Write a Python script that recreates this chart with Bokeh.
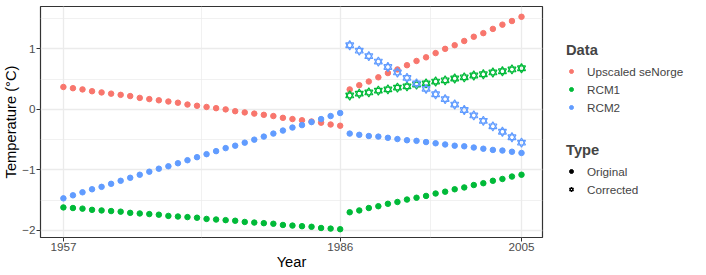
from bokeh.plotting import figure
from bokeh.models import (Range1d, FixedTicker, Legend, LegendItem, ColumnDataSource)
from bokeh.layouts import row
from bokeh.embed import file_html
from bokeh.resources import INLINE

years_early = list(range(1957, 1987))
years_late = list(range(1987, 2006))

senorge_early = [0.37, 0.35, 0.33, 0.30, 0.28, 0.26, 0.24, 0.22, 0.19, 0.17, 0.15, 0.13, 0.11, 0.08, 0.06,
                 0.04, 0.02, 0.00, -0.03, -0.05, -0.07, -0.09, -0.11, -0.14, -0.16, -0.18, -0.20, -0.22, -0.25, -0.27]
senorge_late = [0.33, 0.40, 0.46, 0.53, 0.60, 0.66, 0.73, 0.80, 0.86, 0.93, 1.00, 1.06, 1.13, 1.20, 1.26,
                1.33, 1.40, 1.46, 1.53]
rcm1_early = [-1.62, -1.63, -1.64, -1.66, -1.67, -1.68, -1.69, -1.71, -1.72, -1.73, -1.74, -1.76, -1.77, -1.78,
              -1.79, -1.81, -1.82, -1.83, -1.84, -1.86, -1.87, -1.88, -1.89, -1.91, -1.92, -1.93, -1.94, -1.96,
              -1.97, -1.98]
rcm1_late = [-1.70, -1.67, -1.63, -1.60, -1.56, -1.53, -1.49, -1.46, -1.43, -1.39, -1.36, -1.32, -1.29, -1.25,
             -1.22, -1.18, -1.15, -1.11, -1.08]
rcm2_early = [-1.47, -1.42, -1.37, -1.32, -1.28, -1.23, -1.18, -1.13, -1.08, -1.03, -0.98, -0.94, -0.89, -0.84,
              -0.79, -0.74, -0.69, -0.64, -0.60, -0.55, -0.50, -0.45, -0.40, -0.35, -0.30, -0.26, -0.21, -0.16,
              -0.11, -0.06]
rcm2_late = [-0.40, -0.42, -0.44, -0.45, -0.47, -0.49, -0.51, -0.52, -0.54, -0.56, -0.58, -0.60, -0.61, -0.63,
             -0.65, -0.67, -0.68, -0.70, -0.72]
rcm1_corrected = [0.23, 0.26, 0.28, 0.31, 0.33, 0.36, 0.38, 0.41, 0.43, 0.46, 0.48, 0.51, 0.53, 0.56, 0.58,
                  0.61, 0.63, 0.66, 0.68]
rcm2_corrected = [1.06, 0.97, 0.88, 0.79, 0.70, 0.61, 0.52, 0.43, 0.34, 0.25, 0.17, 0.08, -0.01, -0.10, -0.19,
                  -0.28, -0.37, -0.46, -0.55]

x_ticks = [1957, 1986, 2005]
y_ticks = [-2, -1, 0, 1]
data_labels = ["Upscaled seNorge", "RCM1", "RCM2"]
type_labels = ["Original", "Corrected"]
colors = ["#F8766D", "#00BA38", "#619CFF"]

FONT = "Liberation Sans"
H = 272

p = figure(width=552, height=H, output_backend="svg", toolbar_location=None,
           x_range=Range1d(1954.6, 2007.2), y_range=Range1d(-2.117, 1.70),
           min_border_left=35, min_border_right=10, min_border_top=6, min_border_bottom=30)
p.background_fill_color = "white"
p.outline_line_color = "#333333"
p.outline_line_width = 1.2

for ax in (p.xaxis[0], p.yaxis[0]):
    ax.axis_line_color = None
    ax.major_tick_line_color = "#333333"
    ax.major_tick_out = 4
    ax.major_tick_in = 0
    ax.minor_tick_line_color = None
    ax.major_label_text_font = FONT
    ax.major_label_text_font_size = "11.7px"
    ax.major_label_text_color = "#4D4D4D"
    ax.axis_label_text_font = FONT
    ax.axis_label_text_font_size = "14.7px"
    ax.axis_label_text_font_style = "normal"
    ax.axis_label_text_color = "black"
    ax.major_label_standoff = 1
    ax.axis_label_standoff = 0

p.xaxis.ticker = FixedTicker(ticks=x_ticks, minor_ticks=[1971.5, 1995.5])
p.yaxis.ticker = FixedTicker(ticks=y_ticks, minor_ticks=[-1.5, -0.5, 0.5, 1.5])
p.yaxis.major_label_overrides = {t: (str(t).replace("-", "\u2212")) for t in y_ticks}
p.xaxis.axis_label = "Year"
p.yaxis.axis_label = "Temperature (\u00b0C)"

for g in (p.xgrid[0], p.ygrid[0]):
    g.grid_line_color = "#EBEBEB"
    g.grid_line_width = 1.3
    g.minor_grid_line_color = "#EBEBEB"
    g.minor_grid_line_width = 0.7

early = [senorge_early, rcm1_early, rcm2_early]
late = [senorge_late, rcm1_late, rcm2_late]
for vals_e, vals_l, c in zip(early, late, colors):
    p.scatter(years_early, vals_e, size=5.5, marker="circle", fill_color=c, line_color=c)
    p.scatter(years_late, vals_l, size=5.5, marker="circle", fill_color=c, line_color=c)

for vals, c in [(rcm1_corrected, colors[1]), (rcm2_corrected, colors[2])]:
    p.scatter(years_late, vals, size=8, marker="triangle", fill_color=None, line_color=c, line_width=1.2)
    p.scatter(years_late, vals, size=8, marker="inverted_triangle", fill_color=None, line_color=c, line_width=1.2)

# legend panel
lg = figure(width=138, height=H, output_backend="svg", toolbar_location=None,
            x_range=Range1d(0, 1), y_range=Range1d(0, 1),
            min_border=0, min_border_left=0, min_border_right=0, min_border_top=0, min_border_bottom=0)
lg.axis.visible = False
lg.grid.visible = False
lg.outline_line_color = None

dummy = ColumnDataSource(dict(x=[-10], y=[-10]))
data_items = []
for lab, c in zip(data_labels, colors):
    r = lg.scatter("x", "y", source=dummy, size=5.5, marker="circle", fill_color=c, line_color=c)
    data_items.append(LegendItem(label=lab, renderers=[r]))
r_orig = lg.scatter("x", "y", source=dummy, size=5.5, marker="circle", fill_color="black", line_color="black")
r_t1 = lg.scatter("x", "y", source=dummy, size=6, marker="triangle", fill_color=None, line_color="black", line_width=1.1)
r_t2 = lg.scatter("x", "y", source=dummy, size=6, marker="inverted_triangle", fill_color=None, line_color="black", line_width=1.1)
type_items = [LegendItem(label=type_labels[0], renderers=[r_orig]),
              LegendItem(label=type_labels[1], renderers=[r_t1, r_t2])]


def style(leg):
    leg.title_text_font = FONT
    leg.title_text_font_size = "14.7px"
    leg.title_text_font_style = "bold"
    leg.title_standoff = 4
    leg.label_text_font = FONT
    leg.label_text_font_size = "11.7px"
    leg.label_height = 18
    leg.glyph_height = 18
    leg.glyph_width = 10
    leg.label_standoff = 11
    leg.spacing = 0
    leg.padding = 0
    leg.margin = 0
    leg.border_line_color = None
    leg.background_fill_alpha = 0
    leg.inactive_fill_alpha = 0


leg1 = Legend(items=data_items, title="Data", location=(14, 121))
leg2 = Legend(items=type_items, title="Type", location=(14, 39))
style(leg1)
style(leg2)
lg.add_layout(leg1, "center")
lg.add_layout(leg2, "center")

layout = row(p, lg)
open("out.html", "w").write(file_html(layout, INLINE))
